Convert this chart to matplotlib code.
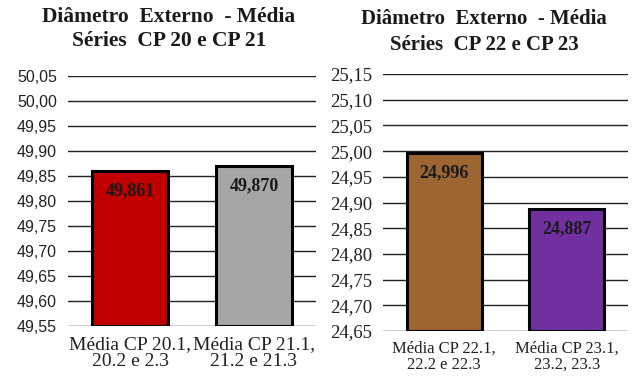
import matplotlib.pyplot as plt
from matplotlib.ticker import FuncFormatter

# series CP 20 / CP 21
cats_a = ['Média CP 20.1,\n20.2 e 2.3', 'Média CP 21.1,\n21.2 e 21.3']
vals_a = [49.861, 49.870]
cols_a = ['#C00000', '#A6A6A6']
ticks_a = [49.55, 49.60, 49.65, 49.70, 49.75, 49.80, 49.85, 49.90, 49.95, 50.00, 50.05]

# series CP 22 / CP 23
cats_b = ['Média CP 22.1,\n22.2 e 22.3', 'Média CP 23.1,\n23.2, 23.3']
vals_b = [24.996, 24.887]
cols_b = ['#9C6532', '#7030A0']
ticks_b = [24.65, 24.70, 24.75, 24.80, 24.85, 24.90, 24.95, 25.00, 25.05, 25.10, 25.15]

serif = 'Liberation Serif'
sans = 'Liberation Sans'

fig = plt.figure(figsize=(6.39, 3.80), dpi=100)
fig.patch.set_facecolor('white')

def comma(v, pos):
    return f'{v:.2f}'.replace('.', ',')

def draw(ax, cats, vals, cols, ticks, tick_font, tick_size, lab_size):
    ax.set_xlim(-0.5, 1.5)
    ax.set_ylim(ticks[0], ticks[-1])
    for t in ticks:
        ax.axhline(t, color='#222222', lw=1.0, zorder=1)
    ax.bar(range(len(vals)), [v - ticks[0] for v in vals], bottom=ticks[0],
           width=0.61, color=cols, edgecolor='black', linewidth=2.2, zorder=2)
    for i, v in enumerate(vals):
        ax.annotate(f'{v:.3f}'.replace('.', ','), (i, v), xytext=(0, -20),
                    textcoords='offset pixels', ha='center', va='center',
                    family=serif, fontweight='bold', fontsize=13, color='#1a1a1a', zorder=3)
    ax.set_yticks(ticks)
    ax.yaxis.set_major_formatter(FuncFormatter(comma))
    for lbl in ax.get_yticklabels():
        lbl.set_family(tick_font)
        lbl.set_fontsize(tick_size)
    ax.set_xticks(range(len(cats)))
    ax.set_xticklabels(cats, family=serif, fontsize=lab_size, linespacing=1.0)
    ax.tick_params(length=0, pad=8, colors='#222222')
    ax.tick_params(axis='x', pad=7)
    for s in ax.spines.values():
        s.set_visible(False)

ax1 = fig.add_axes([68/639, 1-326/380, 248/639, 250/380])
draw(ax1, cats_a, vals_a, cols_a, ticks_a, sans, 11.5, 14)

ax2 = fig.add_axes([383/639, 1-331/380, 245/639, 257/380])
draw(ax2, cats_b, vals_b, cols_b, ticks_b, serif, 13.5, 12)

# titles
fig.text(169/639, 1-17/380, 'Diâmetro  Externo  - Média', ha='center', va='center',
         family=serif, fontweight='bold', fontsize=15.5, color='#1a1a1a')
fig.text(169/639, 1-41/380, 'Séries  CP 20 e CP 21', ha='center', va='center',
         family=serif, fontweight='bold', fontsize=15.5, color='#1a1a1a')
fig.text(484/639, 1-19/380, 'Diâmetro  Externo  - Média', ha='center', va='center',
         family=serif, fontweight='bold', fontsize=15, color='#1a1a1a')
fig.text(484/639, 1-45/380, 'Séries  CP 22 e CP 23', ha='center', va='center',
         family=serif, fontweight='bold', fontsize=15, color='#1a1a1a')

fig.savefig('out.png', dpi=100)
